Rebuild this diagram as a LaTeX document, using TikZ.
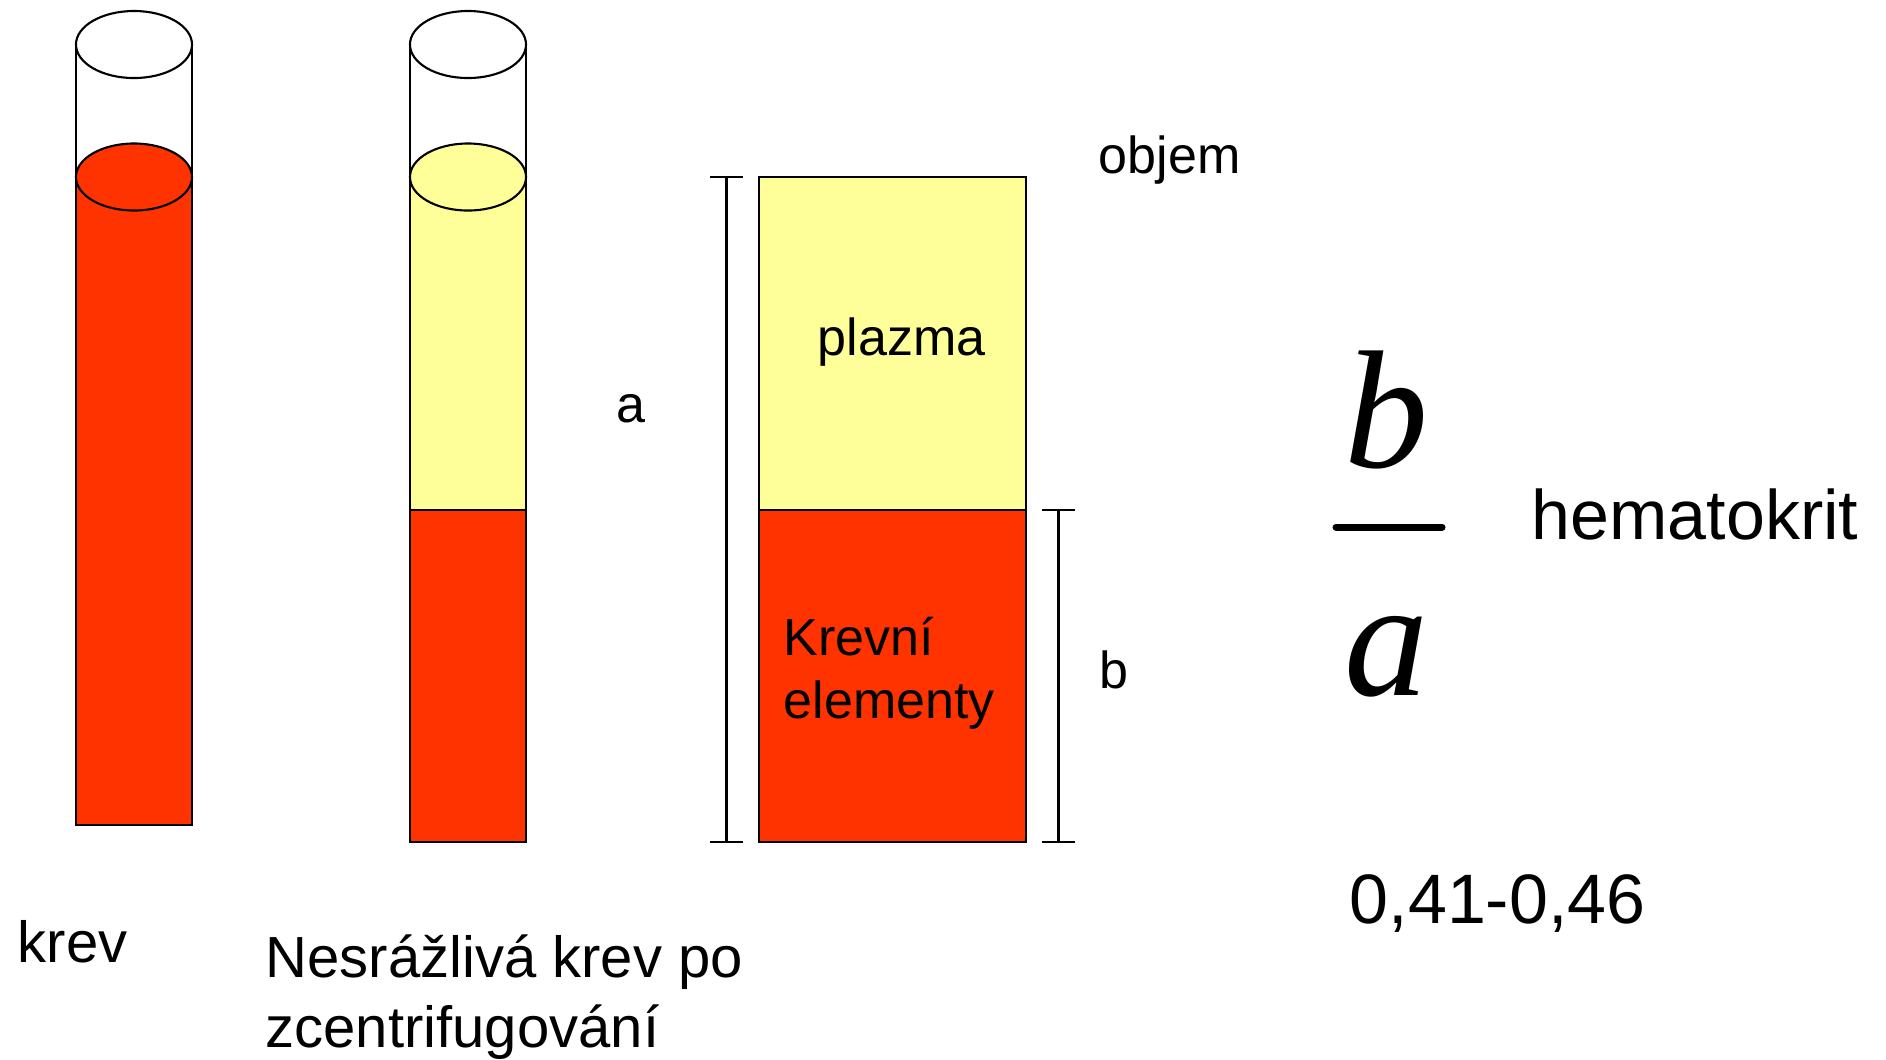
\documentclass[tikz,border=0pt]{standalone}
\usepackage{fontspec}
\setmainfont{Liberation Sans}
\newfontfamily\fracfont{Liberation Serif}
\usepackage{tikz}
\usetikzlibrary{calc}

\definecolor{krevred}{HTML}{FF3300}
\definecolor{plazmayellow}{HTML}{FFFF99}

\tikzset{
  tube/.style={draw=black,line width=0.6pt},
  lbl/.style={anchor=base west,inner sep=0pt},
  small/.style={lbl,font=\fontsize{14.8}{17}\selectfont},
  mid/.style={lbl,font=\fontsize{16.5}{19}\selectfont},
  big/.style={lbl,font=\fontsize{19.9}{23}\selectfont},
  fracletter/.style={anchor=base,inner sep=0pt,font=\fontsize{47.8}{52}\selectfont\fracfont\itshape}
}

\begin{document}
\begin{tikzpicture}[x=0.01cm,y=-0.01cm]
  \useasboundingbox (0,0) rectangle (1886,1059);
  % First tube: whole blood
  \fill[krevred] (76,177) rectangle (192,825);
  \draw[tube] (76,44.5) -- (76,825) -- (192,825) -- (192,44.5);
  \draw[tube,fill=white] (134,44.5) ellipse (0.58cm and 0.335cm);
  \draw[tube,fill=krevred] (134,177) ellipse (0.58cm and 0.335cm);
  % Second tube: after centrifugation
  \fill[plazmayellow] (410,177) rectangle (526,510);
  \fill[krevred] (410,510) rectangle (526,842);
  \draw[tube] (410,44.5) -- (410,842) -- (526,842) -- (526,44.5);
  \draw[tube] (410,510) -- (526,510);
  \draw[tube,fill=white] (468,44.5) ellipse (0.58cm and 0.335cm);
  \draw[tube,fill=plazmayellow] (468,177) ellipse (0.58cm and 0.335cm);
  % Column with the two layers
  \draw[tube,fill=plazmayellow] (759,177) rectangle (1026,510);
  \draw[tube,fill=krevred] (759,510) rectangle (1026,842);
  % Brackets a and b
  \coordinate (atop) at (726.5,177);
  \coordinate (abot) at (726.5,842);
  \coordinate (btop) at (1058.5,510);
  \coordinate (bbot) at (1058.5,842);
  \draw[tube] (atop) -- (abot);
  \draw[tube] ($(atop)+(-16.5,0)$) -- ($(atop)+(16.5,0)$);
  \draw[tube] ($(abot)+(-16.5,0)$) -- ($(abot)+(16.5,0)$);
  \draw[tube] (btop) -- (bbot);
  \draw[tube] ($(btop)+(-16.5,0)$) -- ($(btop)+(16.5,0)$);
  \draw[tube] ($(bbot)+(-16.5,0)$) -- ($(bbot)+(16.5,0)$);
  % Labels
  \node[small] (objem) at (1098,173) {objem};
  \node[small] (plazma) at (817,355) {plazma};
  \node[small] (krevni) at (783,655) {Krevní};
  \node[small] (elementy) at (783,718) {elementy};
  \node[small] (alabel) at (616,422) {a};
  \node[small] (blabel) at (1099,688) {b};
  \node[mid] (krev) at (17,962) {krev};
  \node[mid] (nesrazliva) at (265,977) {Nesrážlivá krev po};
  \node[mid] (zcentr) at (265,1047) {zcentrifugování};
  % Hematocrit ratio
  \node[fracletter] (fracb) at (1386,467) {b};
  \node[fracletter] (fraca) at (1386,695) {a};
  \draw[line width=2pt,line cap=round] (1336,527) -- (1442,527);
  \node[big] (hematokrit) at (1531,539) {hematokrit};
  \node[big] (range) at (1349,923) {0,41-0,46};
\end{tikzpicture}
\end{document}
